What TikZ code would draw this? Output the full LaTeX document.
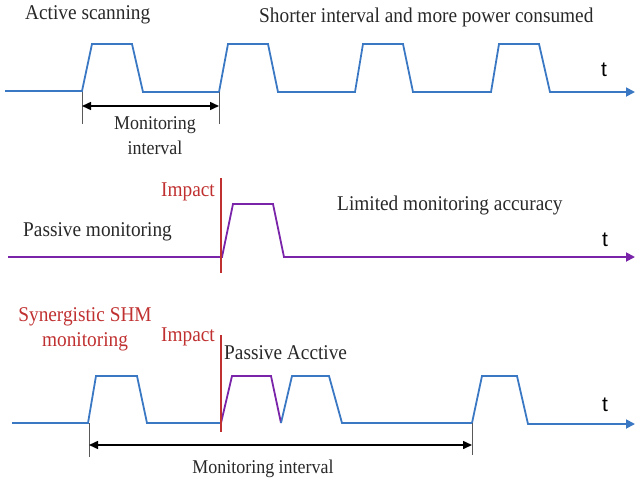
\documentclass[tikz,border=0pt]{standalone}
\usepackage{fontspec}
\usetikzlibrary{arrows.meta}
\newfontfamily\narrowfont[FakeStretch=0.92]{Liberation Serif}
\newfontfamily\tfont{Liberation Sans}
\definecolor{sigblue}{RGB}{58,120,196}
\definecolor{sigpurple}{RGB}{122,36,170}
\definecolor{impred}{RGB}{192,48,48}
\definecolor{txt}{RGB}{40,40,40}
\tikzset{
  sigb/.style={sigblue, line width=1.8pt, line join=miter},
  sigp/.style={sigpurple, line width=1.8pt, line join=miter},
  axisb/.style={sigb, -{Triangle[length=9pt,width=9pt]}},
  axisp/.style={sigp, -{Triangle[length=9pt,width=9pt]}},
  impact/.style={impred, line width=1.5pt},
  tick/.style={gray!70!black, line width=1pt},
  dim/.style={black, line width=1.5pt, {Triangle[length=9pt,width=8pt]}-{Triangle[length=9pt,width=8pt]}},
  lbl/.style={inner sep=0pt, text=txt, font=\narrowfont\fontsize{21}{21}\selectfont},
  smlbl/.style={inner sep=0pt, text=txt, font=\narrowfont\fontsize{19.5}{25}\selectfont, align=center},
  redlbl/.style={lbl, text=impred},
  tlbl/.style={inner sep=0pt, font=\tfont\fontsize{21}{21}\selectfont}
}
\begin{document}
\begin{tikzpicture}[x=1pt,y=-1pt]
\useasboundingbox (0,0) rectangle (635,482);
% ---------- Row 1: active scanning ----------
\draw[axisb] (5,91) -- (82,91) -- (92,44) -- (132,44) -- (143,92) -- (219,92) -- (228,44) -- (268,44) -- (278,92)
  -- (355,92) -- (363,44) -- (403,44) -- (413,92) -- (491,92) -- (499,44) -- (539,44) -- (550,92) -- (635,92);
\node[lbl, anchor=west] (act) at (25,15) {Active scanning};
\node[lbl, anchor=west] (short) at (259,17) {Shorter interval and more power consumed};
\node[tlbl] (t1) at (604,70) {t};
\coordinate (m1a) at (82,92);
\coordinate (m1b) at (219,92);
\coordinate (m1c) at (82,124);
\coordinate (m1d) at (219,124);
\draw[tick] (m1a) -- (m1c);
\draw[tick] (m1b) -- (m1d);
\draw[dim] (82,106) -- (219,106);
\node[smlbl] (mi1) at (155,136) {Monitoring\\interval};
% ---------- Row 2: passive monitoring ----------
\draw[axisp] (8,257) -- (222,257) -- (233,204) -- (273,204) -- (284,257) -- (635,257);
\coordinate (i2a) at (221,178);
\coordinate (i2b) at (221,273);
\draw[impact] (i2a) -- (i2b);
\node[redlbl, anchor=east] (imp2) at (215,192) {Impact};
\node[lbl, anchor=west] (pas) at (23,232) {Passive monitoring};
\node[lbl, anchor=west] (lim) at (337,205) {Limited monitoring accuracy};
\node[tlbl] (t2) at (605,240) {t};
% ---------- Row 3: synergistic ----------
\draw[sigb] (12,423) -- (88,423) -- (96,376) -- (137,376) -- (147,423) -- (221,423);
\draw[sigp] (221,423) -- (232,376) -- (271,376) -- (281,423);
\draw[axisb] (281,423) -- (292,376) -- (329,376) -- (342,423) -- (472,423) -- (482,376) -- (517,376) -- (528,424) -- (635,424);
\coordinate (i3a) at (221,335);
\coordinate (i3b) at (221,432);
\draw[impact] (i3a) -- (i3b);
\node[redlbl, anchor=east] (imp3) at (215,337) {Impact};
\node[redlbl, align=center] (syn) at (85,329) {Synergistic SHM\\[4pt]monitoring};
\node[lbl, anchor=west] (pa) at (224,353) {Passive Acctive};
\node[tlbl] (t3) at (605,405) {t};
\coordinate (m3a) at (89,423);
\coordinate (m3b) at (472,423);
\coordinate (m3c) at (89,457);
\coordinate (m3d) at (472,455);
\draw[tick] (m3a) -- (m3c);
\draw[tick] (m3b) -- (m3d);
\draw[dim] (89,445) -- (472,445);
\node[smlbl] (mi3) at (263,469) {Monitoring interval};
\end{tikzpicture}
\end{document}
